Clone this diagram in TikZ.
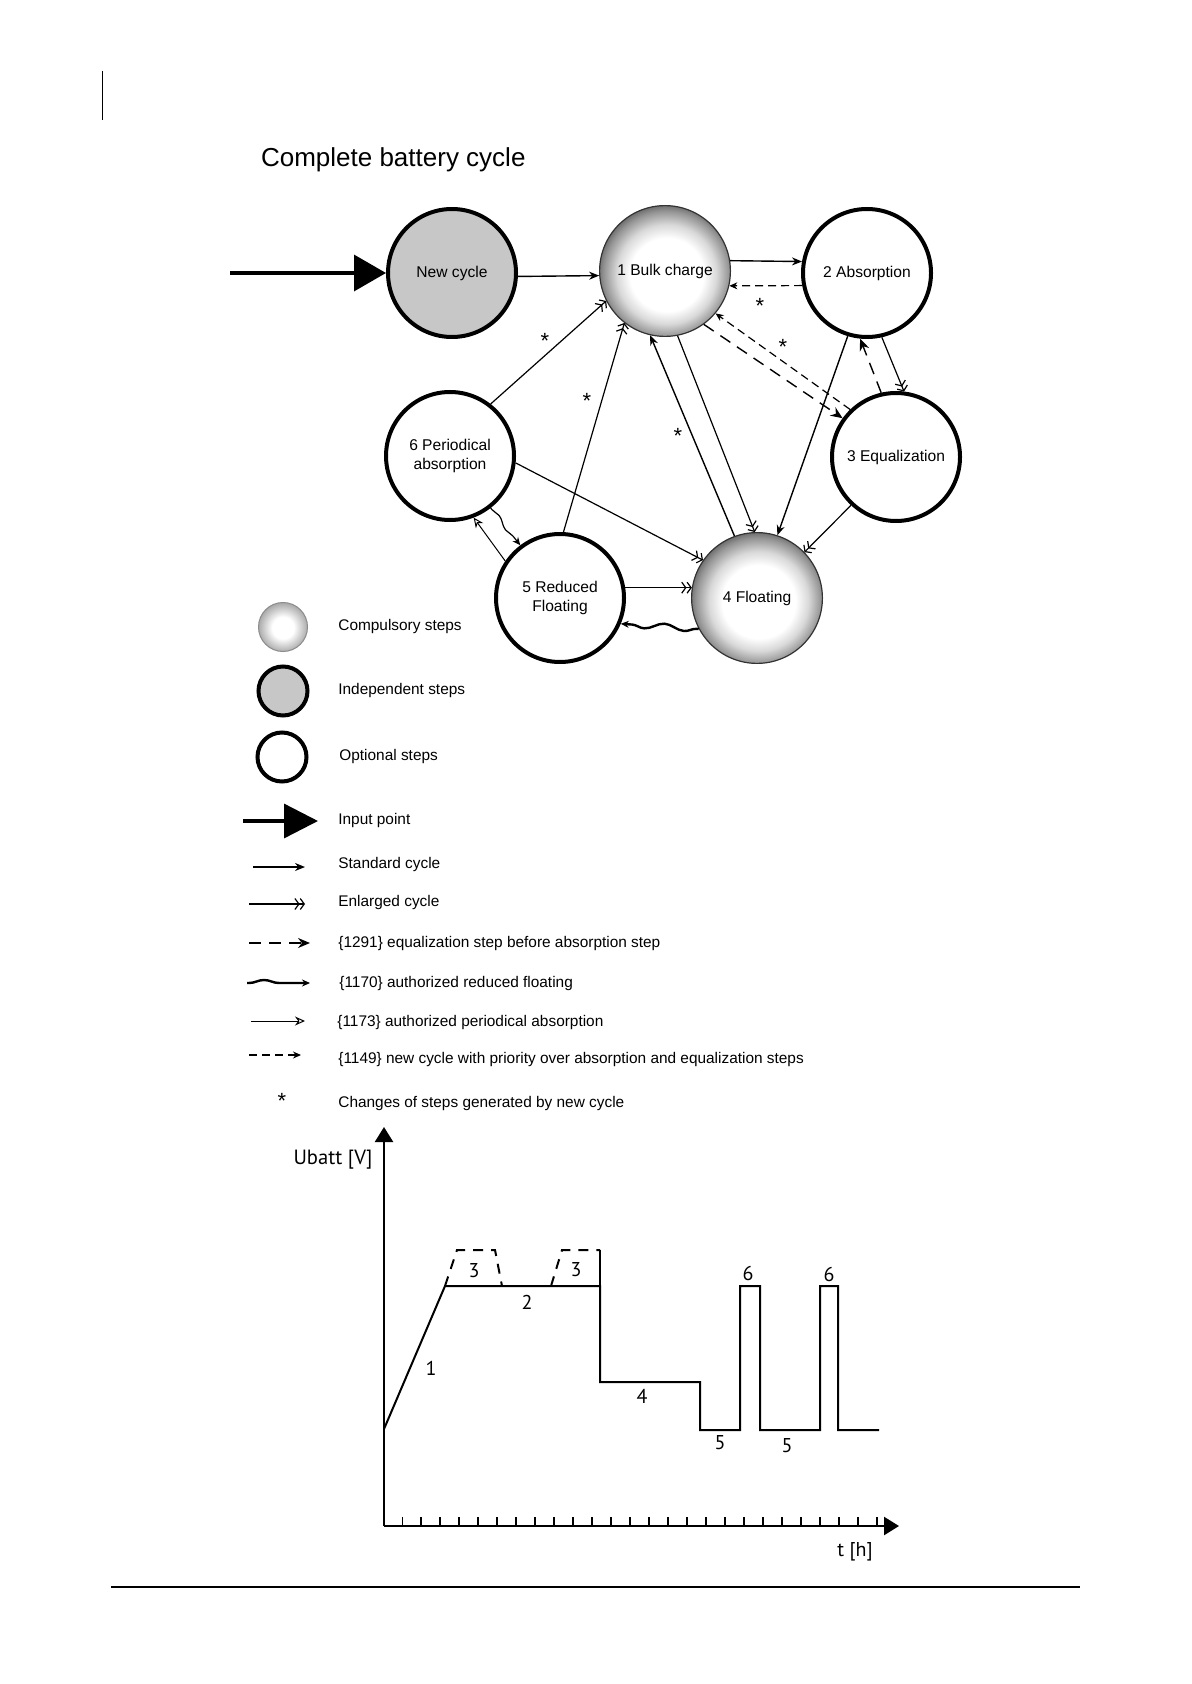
\documentclass[tikz,border=0pt]{standalone}
\usepackage{fontspec}
\setmainfont{Liberation Sans}
\newfontfamily\plotfont{PT Sans}
\usetikzlibrary{arrows.meta}
\usetikzlibrary{decorations.pathmorphing}

\pgfdeclareradialshading{stepball}{\pgfpoint{1bp}{-2bp}}{color(0bp)=(white); color(14bp)=(white); color(19bp)=(black!15); color(24bp)=(black!42); color(28bp)=(black!70); color(50bp)=(black!70)}
\pgfdeclareradialshading{legendball}{\pgfpoint{0bp}{-1bp}}{color(0bp)=(white); color(11bp)=(white); color(28bp)=(black!40); color(50bp)=(black!40)}

\newcommand{\circfont}{\fontsize{7.8}{9.5}\selectfont}
\newcommand{\legfont}{\fontsize{7.7}{9}\selectfont}

\tikzset{
	optional/.style={circle, draw, line width=2pt, minimum size=64pt, inner sep=0pt, align=center, font=\circfont},
	independent/.style={optional, fill=black!22},
	compulsory/.style={circle, draw=black!80, line width=0.6pt, minimum size=65.4pt, inner sep=0pt, align=center, font=\circfont, shading=stepball},
	legtext/.style={anchor=west, inner sep=0pt, font=\legfont},
	standard/.style={line width=0.7pt, -{Stealth[length=5pt,width=4pt]}},
	enlarged/.style={line width=0.6pt, -{Straight Barb[length=2pt,width=5.5pt] Straight Barb[length=2pt,width=5.5pt]}},
	eqbefore/.style={line width=0.7pt, dash pattern=on 6pt off 4pt, -{Stealth[length=6pt,width=5pt]}},
	newprio/.style={line width=0.6pt, dash pattern=on 4pt off 2.5pt, -{Stealth[length=4pt,width=3.5pt]}},
	redfloat/.style={line width=1.2pt, decorate, decoration={snake, amplitude=1.5pt, segment length=20pt, pre length=1pt, post length=5pt}, -{Stealth[length=4pt,width=3.5pt]}},
	perabs/.style={line width=0.5pt, -{Stealth[open,length=5pt,width=4.5pt]}},
	input/.style={line width=1.7pt, -{Triangle[length=16pt,width=18pt]}},
	star/.style={font=\fontsize{11}{11}\selectfont, yshift=-2.2pt},
	axis/.style={line width=1.2pt, -{Triangle[length=7.5pt,width=9pt]}},
	curve/.style={line width=1pt},
	plotlabel/.style={font=\plotfont\fontsize{10}{12}\selectfont}
}

\begin{document}
\begin{tikzpicture}[x=0.5pt,y=-0.5pt]
	\useasboundingbox (0,0) rectangle (1191,1684);
	\draw[line width=0.5pt] (102,71) -- (102,120);
	\draw[line width=0.7pt] (111,1587) -- (1080,1587);
	\node [anchor=base west, font=\fontsize{13}{15}\selectfont] at (254,167) (TITLE) {Complete battery cycle};

	% steps
	\node [independent] at (452,273) (NEW) {New cycle};
	\node [compulsory] at (665,271) (BULK) {1 Bulk charge};
	\node [optional] at (867,273) (ABS) {2 Absorption};
	\node [optional] at (896,457) (EQ) {3 Equalization};
	\node [compulsory] at (757,598) (FLOAT) {4 Floating};
	\node [optional] at (560,598) (RED) {5 Reduced\\Floating};
	\node [optional] at (450,456) (PER) {6 Periodical\\absorption};

	\coordinate (IN) at (230,273);
	\draw[input] (IN) -- (NEW.west);
	\draw[standard] (NEW.-3) -- (BULK.184);
	\draw[standard] (BULK.9) -- (ABS.170);
	\draw[newprio] (ABS.191) -- (BULK.-13);
	\draw[newprio] (EQ.134) -- (BULK.-40);
	\draw[eqbefore] (BULK.-54) -- (EQ.144);
	\draw[eqbefore] (EQ.103) -- (ABS.264);
	\draw[enlarged] (ABS.-77) -- (EQ.83);
	\draw[standard] (ABS.253) -- (FLOAT.72);
	\draw[enlarged] (BULK.-79) -- (FLOAT.92);
	\draw[standard] (FLOAT.110) -- (BULK.257);
	\draw[enlarged] (EQ.227) -- (FLOAT.44);
	\draw[enlarged] (PER.-6) -- (FLOAT.145);
	\draw[enlarged] (PER.52) -- (BULK.207);
	\draw[enlarged] (RED.87) -- (BULK.232);
	\draw[perabs] (RED.146) -- (PER.-69);
	\draw[redfloat, line width=0.6pt, decoration={segment length=15pt, amplitude=1pt, post length=4pt}] (PER.-52) -- (RED.127);
	\draw[enlarged] (RED.9) -- (FLOAT.171);
	\draw[redfloat] (FLOAT.208) -- (RED.-23);

	\node [star] at (760,302) (S1) {*};
	\node [star] at (783,343) (S2) {*};
	\node [star] at (545,337) (S3) {*};
	\node [star] at (587,397) (S4) {*};
	\node [star] at (678,432) (S5) {*};

	% legend
	\node [circle, draw=black!45, line width=0.5pt, minimum size=24.5pt, shading=legendball] at (283,627) (COMP) {};
	\node [circle, draw, line width=2pt, minimum size=24.5pt, fill=black!22] at (283,691) (IND) {};
	\node [circle, draw, line width=2pt, minimum size=24.5pt] at (282,757) (OPT) {};
	\node [legtext] at (338,627) (COMPt) {Compulsory steps};
	\node [legtext] at (338,691) (INDt) {Independent steps};
	\node [legtext] at (339,757) (OPTt) {Optional steps};

	\coordinate (INa) at (243,821);
	\coordinate (INb) at (318,821);
	\draw[input, -{Triangle[length=17pt,width=17pt]}] (INa) -- (INb);
	\node [legtext] at (338,821) (INt) {Input point};

	\coordinate (STDa) at (253,867);
	\coordinate (STDb) at (305,867);
	\draw[standard] (STDa) -- (STDb);
	\node [legtext] at (338,865) (STDt) {Standard cycle};

	\coordinate (ENLa) at (249,904);
	\coordinate (ENLb) at (305,904);
	\draw[enlarged] (ENLa) -- (ENLb);
	\node [legtext] at (338,903) (ENLt) {Enlarged cycle};

	\coordinate (EQBa) at (249,943);
	\coordinate (EQBb) at (310,943);
	\draw[eqbefore] (EQBa) -- (EQBb);
	\node [legtext] at (338,944) (EQBt) {\{1291\} equalization step before absorption step};

	\coordinate (RFa) at (247,983);
	\coordinate (RFb) at (310,983);
	\draw[redfloat, decoration={segment length=24pt, amplitude=1.5pt, post length=6pt}] (RFa) -- (RFb);
	\node [legtext] at (339,984) (RFt) {\{1170\} authorized reduced floating};

	\coordinate (PAa) at (251,1021);
	\coordinate (PAb) at (305,1021);
	\draw[perabs] (PAa) -- (PAb);
	\node [legtext] at (337,1023) (PAt) {\{1173\} authorized periodical absorption};

	\coordinate (NPa) at (249,1055);
	\coordinate (NPb) at (301,1055);
	\draw[newprio] (NPa) -- (NPb);
	\node [legtext] at (338,1060) (NPt) {\{1149\} new cycle with priority over absorption and equalization steps};

	\node [star] at (282,1097) (S0) {*};
	\node [legtext] at (338,1104) (S0t) {Changes of steps generated by new cycle};

	% voltage plot
	\coordinate (O) at (384,1526);
	\draw[axis] (O) -- (384,1127);
	\draw[axis] (O) -- (899,1526);
	\foreach \i in {0,...,25}
		\draw[line width=0.8pt] (402.3+\i*18.99,1526) -- ++(0,-9);
	\draw[curve] (384,1429) -- (445,1286) -- (600,1286) -- (600,1382) -- (700,1382) -- (700,1430) -- (740,1430) -- (740,1286) -- (760,1286) -- (760,1430) -- (820,1430) -- (820,1286) -- (838,1286) -- (838,1430) -- (879,1430);
	\draw[curve] (600,1250) -- (600,1286);
	\draw[curve, dash pattern=on 5pt off 4pt] (445,1286) -- (457,1250) -- (495,1250) -- (502,1286);
	\draw[curve, dash pattern=on 5pt off 4pt] (551,1286) -- (562,1250) -- (600,1250);
	\node [plotlabel, font=\plotfont\fontsize{10.3}{12}\selectfont] at (333,1160) (UB) {Ubatt [V]};
	\node [plotlabel] at (855,1552) (TH) {t [h]};
	\node [plotlabel] at (431,1368) (L1) {1};
	\node [plotlabel] at (527,1302) (L2) {2};
	\node [plotlabel] at (474,1271) (L3a) {3};
	\node [plotlabel] at (576,1270) (L3b) {3};
	\node [plotlabel] at (642,1396) (L4) {4};
	\node [plotlabel] at (720,1443) (L5a) {5};
	\node [plotlabel] at (787,1446) (L5b) {5};
	\node [plotlabel] at (748,1273) (L6a) {6};
	\node [plotlabel] at (829,1274) (L6b) {6};
\end{tikzpicture}
\end{document}
